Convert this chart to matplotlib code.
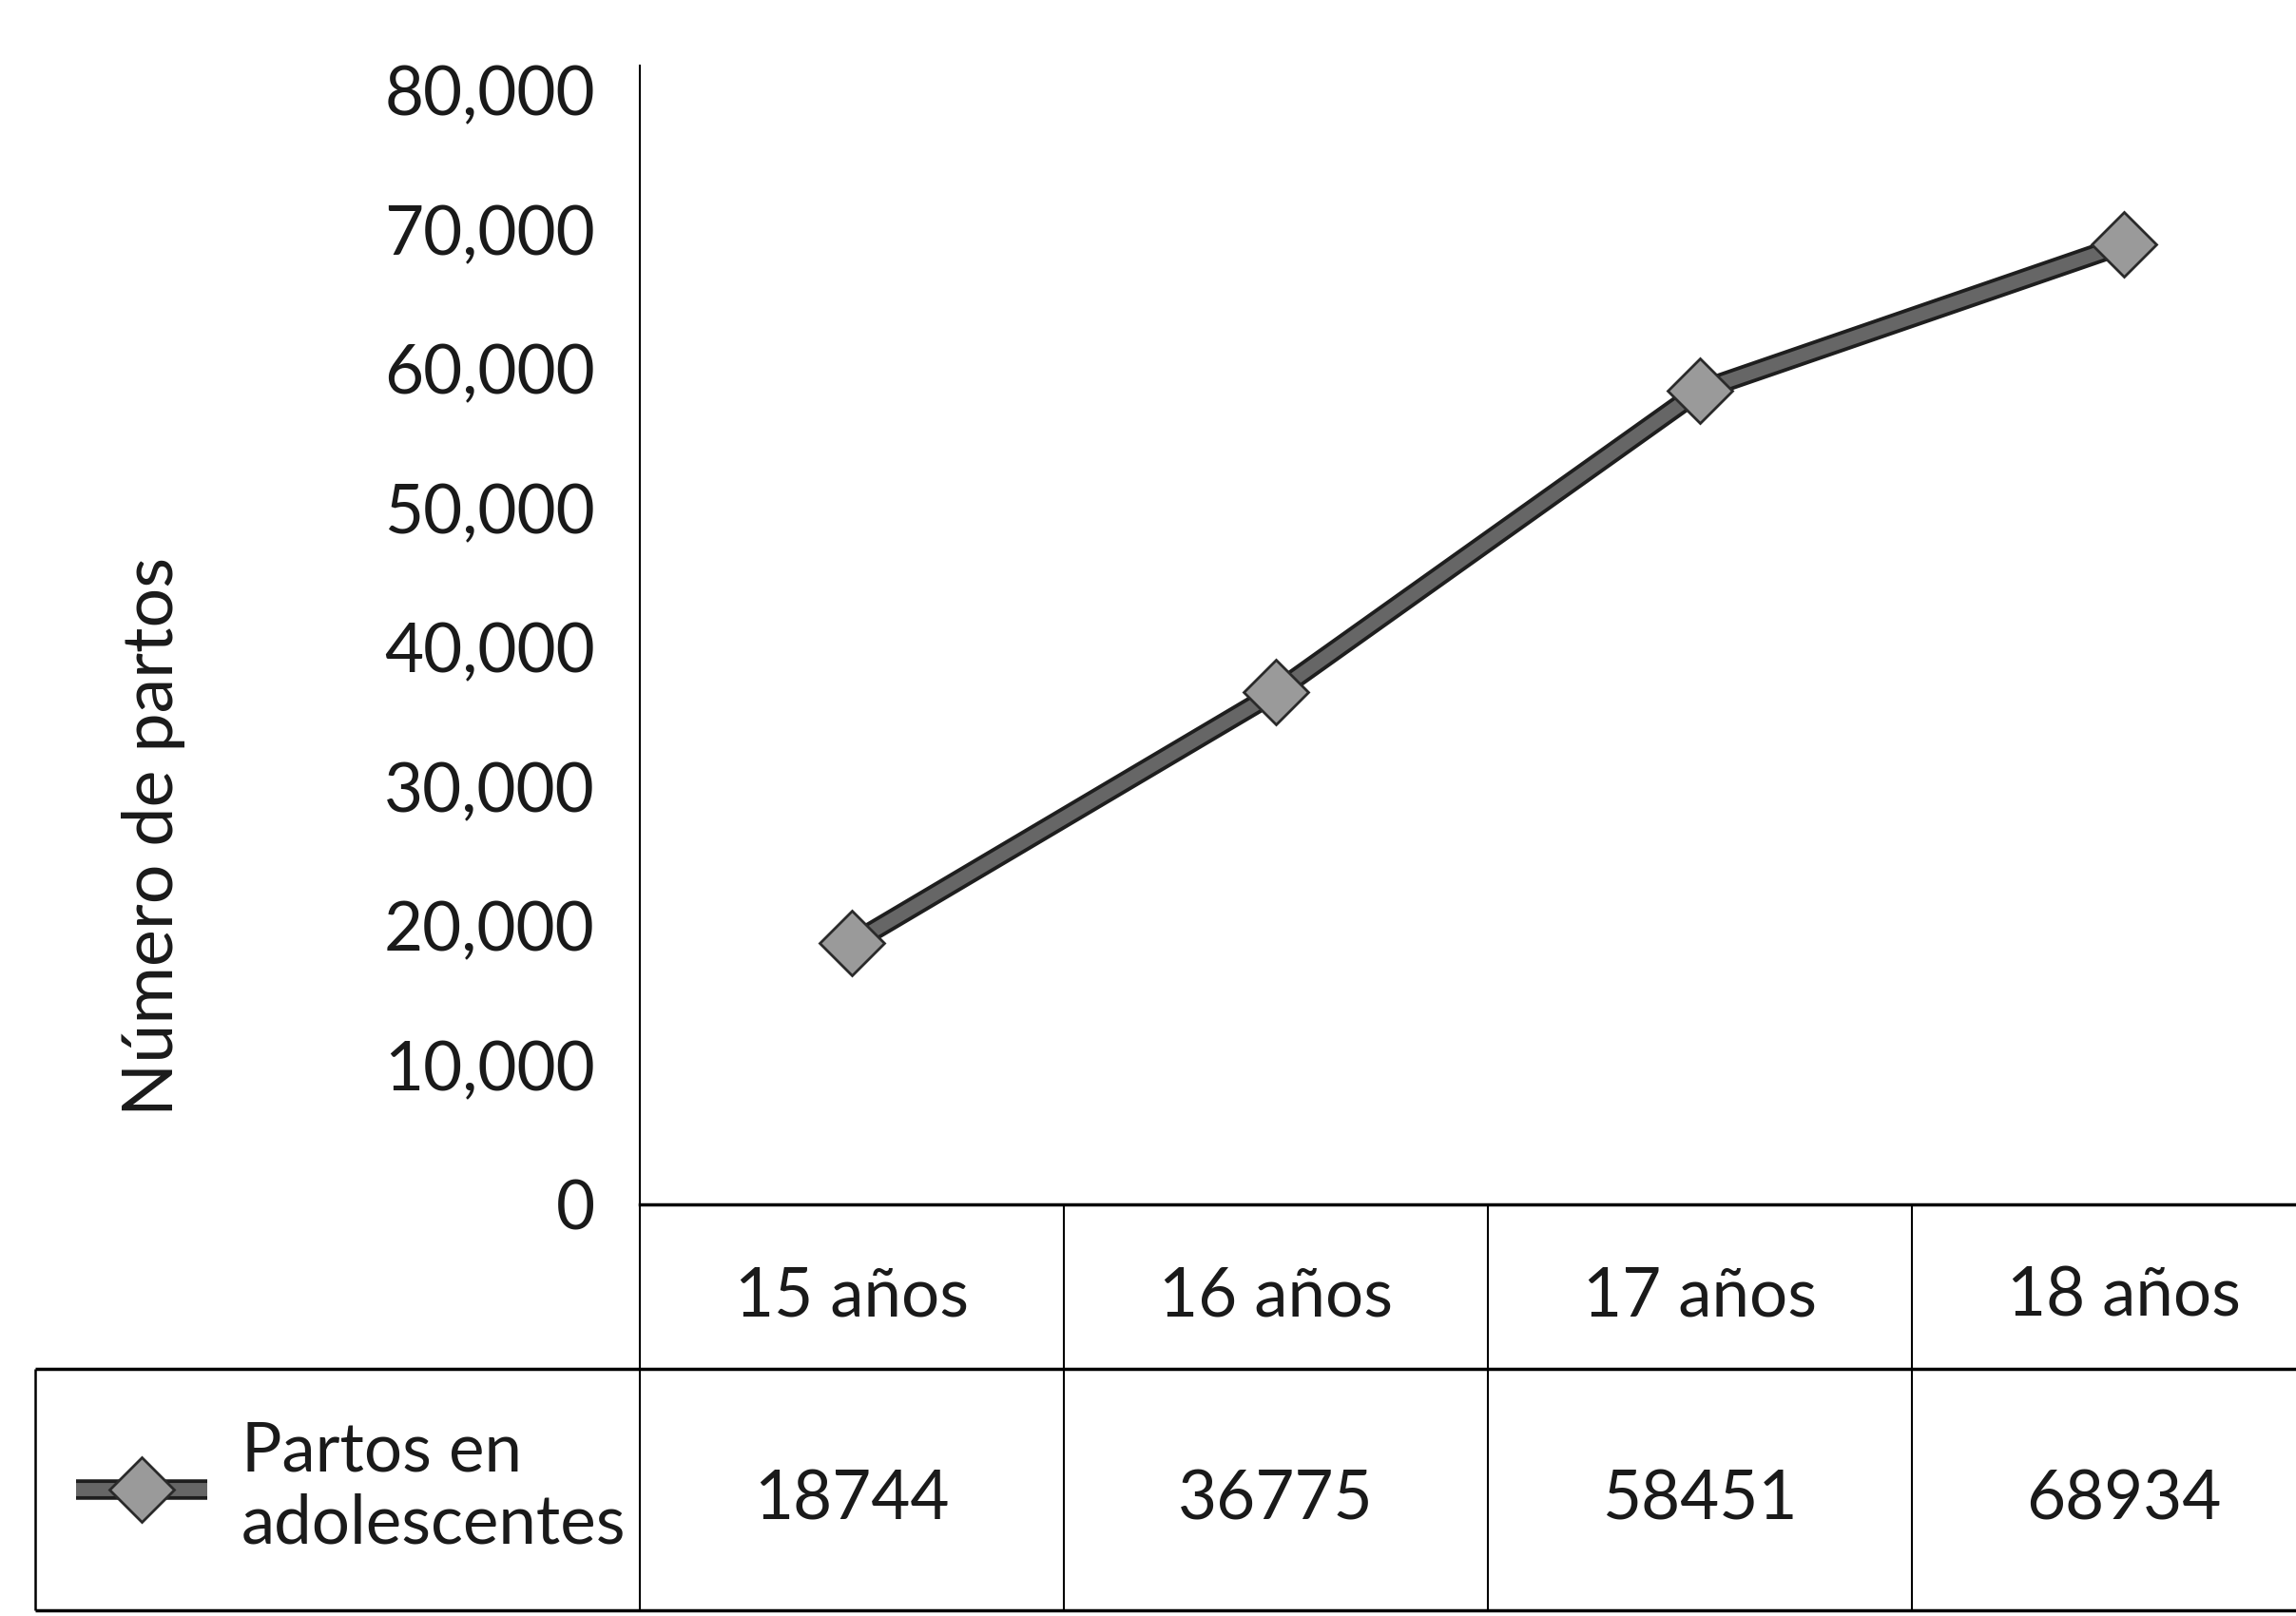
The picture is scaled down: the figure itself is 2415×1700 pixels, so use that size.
import matplotlib
matplotlib.use('Agg')
import matplotlib.pyplot as plt
import matplotlib.patheffects as pe

# datos del grafico
edades = ['15 años', '16 años', '17 años', '18 años']
partos = [18744, 36775, 58451, 68934]
ticks_y = [0, 10000, 20000, 30000, 40000, 50000, 60000, 70000, 80000]
serie = 'Partos en\nadolescentes'

W, H = 2415, 1700
plt.rcParams['font.family'] = ['Lato', 'DejaVu Sans']
FS = 51


def px_x(v):
    return v / W


def px_y(v):
    return 1 - v / H


def main():
    fig = plt.figure(figsize=(W / 100, H / 100), dpi=100)

    # eje principal: x de 673 px hasta fuera de la figura
    left, right = 673, 2457
    top, base = 69, 1267
    ax = fig.add_axes([px_x(left), px_y(base), (right - left) / W, (base - top) / H])
    x = list(range(len(edades)))
    linea, = ax.plot(x, partos, color='#666666', lw=10, solid_capstyle='butt',
                     path_effects=[pe.Stroke(linewidth=15.5, foreground='#1e1e1e'), pe.Normal()])
    marcas, = ax.plot(x, partos, ls='none', marker='D', markersize=35,
                      markerfacecolor='#9a9a9a', markeredgecolor='#2a2a2a', markeredgewidth=2)
    ax.set_xlim(-0.5, 3.5)
    ax.set_ylim(0, 81780)
    ax.set_yticks(ticks_y)
    ax.set_yticklabels(['{:,}'.format(t) for t in ticks_y])
    ax.tick_params(axis='y', length=0, pad=34, labelsize=FS, colors='#1a1a1a')
    ax.set_xticks([])
    for s in ['top', 'right']:
        ax.spines[s].set_visible(False)
    ax.spines['left'].set_linewidth(1.5)
    ax.spines['bottom'].set_linewidth(2.5)

    fig.text(px_x(162), px_y(880), 'Número de partos', rotation=90,
             ha='center', va='center', fontsize=FS + 2, color='#1a1a1a')

    # tabla de datos bajo el eje
    t_left, t_bottom = 37, 1694
    ancho_col = (right - left) / 4
    x0 = -0.5 - (left - t_left) / ancho_col
    tab = fig.add_axes([px_x(t_left), px_y(t_bottom), (right - t_left) / W, (t_bottom - base) / H])
    tab.set_xlim(x0, 3.5)
    tab.set_ylim(0, 1)
    tab.axis('off')
    corte = (t_bottom - 1440) / (t_bottom - base)
    kw = dict(color='black', clip_on=False)
    tab.hlines([corte, 0], x0, 3.5, lw=2.5, **kw)
    tab.vlines([x0], 0, corte, lw=1.8, **kw)
    tab.vlines([i - 0.5 for i in x], 0, 1, lw=1.5, **kw)

    for i, (e, p) in enumerate(zip(edades, partos)):
        tab.text(i, (1 + corte) / 2 - 0.025, e, ha='center', va='center', fontsize=FS, color='#1a1a1a')
        tab.text(i, corte / 2 - 0.025, str(p), ha='center', va='center', fontsize=FS, color='#1a1a1a')

    fig.legend([(linea, marcas)], [serie], loc='center left',
               bbox_to_anchor=(px_x(80), px_y(1565)), frameon=False, fontsize=FS,
               handlelength=1.95, handletextpad=0.5, borderpad=0, borderaxespad=0,
               labelcolor='#1a1a1a')

    fig.savefig('out.png', dpi=100, facecolor='white')


main()
